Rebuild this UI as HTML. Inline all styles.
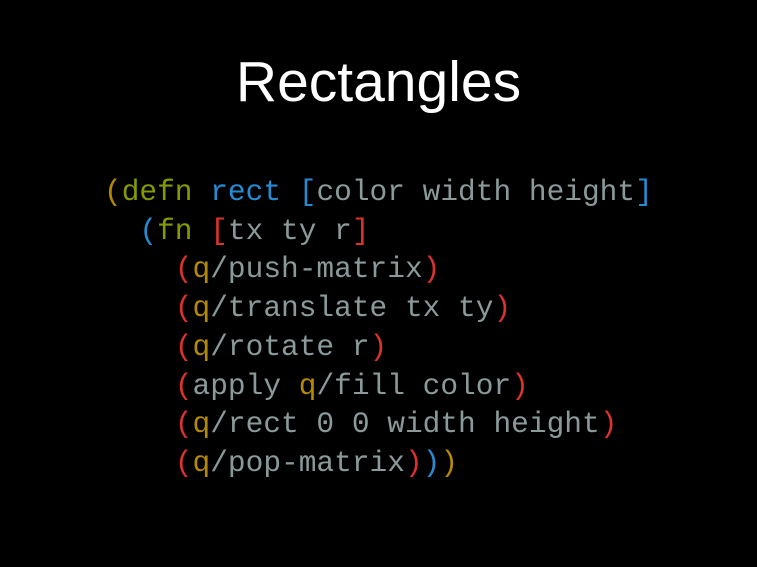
<!DOCTYPE html>
<html><head><style>
html,body{margin:0;padding:0;background:#000;width:757px;height:567px;overflow:hidden}
.t{position:absolute;left:0;width:757px;top:49px;text-align:center;color:#fff;font:57px "Liberation Sans",sans-serif}
pre{position:absolute;left:104px;top:173px;margin:0;font:29.5px/38.7px "Liberation Mono",monospace;color:#8a9a9a}
.o{color:#b58900}.g{color:#859900}.b{color:#268bd2}.r{color:#dc322f}
</style></head><body>
<div class="t">Rectangles</div>
<pre><span class="o">(</span><span class="g">defn</span> <span class="b">rect</span> <span class="b">[</span>color width height<span class="b">]</span>
  <span class="b">(</span><span class="g">fn</span> <span class="r">[</span>tx ty r<span class="r">]</span>
    <span class="r">(</span><span class="o">q</span>/push-matrix<span class="r">)</span>
    <span class="r">(</span><span class="o">q</span>/translate tx ty<span class="r">)</span>
    <span class="r">(</span><span class="o">q</span>/rotate r<span class="r">)</span>
    <span class="r">(</span>apply <span class="o">q</span>/fill color<span class="r">)</span>
    <span class="r">(</span><span class="o">q</span>/rect 0 0 width height<span class="r">)</span>
    <span class="r">(</span><span class="o">q</span>/pop-matrix<span class="r">)</span><span class="b">)</span><span class="o">)</span></pre>
</body></html>
